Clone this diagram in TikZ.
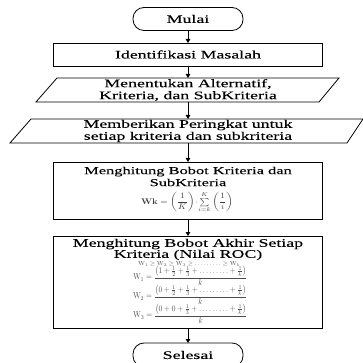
\documentclass[tikz,border=0pt]{standalone}
\usepackage{amsmath}
\usepackage[no-math]{fontspec}
\setmainfont[FakeStretch=1.55,FakeBold=0.1]{Liberation Serif}
\usepackage{graphicx}
\usetikzlibrary{arrows.meta}
\begin{document}
\begin{tikzpicture}[x=1pt,y=-1pt,
  every node/.style={inner sep=0pt, outer sep=0pt},
  frame/.style={draw, line width=0.8pt},
  term/.style={frame, rounded corners=11pt, minimum width=110pt, minimum height=23pt},
  procbox/.style={frame, minimum width=269pt},
  lbl/.style={align=center, font=\fontsize{11.5}{12}\selectfont},
  ghost/.style={minimum width=200pt, minimum height=24pt},
  fml/.style={text=black!70},
  arr/.style={line width=0.8pt, -{Triangle[length=4pt,width=4.5pt]}}]
\clip (0,0) rectangle (363,363);
\fill[white] (0,0) rectangle (363,363);

% Mulai
\node[term, lbl] (mulai) at (188,19) {Mulai};
% Identifikasi
\node[procbox, minimum height=23pt, lbl] (ident) at (188,54.5) {Identifikasi Masalah};
% Parallelogram 1
\draw[frame] (57,78) -- (339,78) -- (319,102) -- (36,102) -- cycle;
\node[ghost, lbl] (alt) at (188,90) {Menentukan Alternatif,\\Kriteria, dan SubKriteria};
% Parallelogram 2
\draw[frame] (31,119) -- (363,119) -- (347,143) -- (10,143) -- cycle;
\node[ghost, lbl] (rank) at (188,131) {Memberikan Peringkat untuk\\setiap kriteria dan subkriteria};
% Box 3
\node[procbox, minimum height=57pt] (bobot) at (188,190.5) {};
\node[align=center, font=\fontsize{10.6}{12}\selectfont] (bobott) at (188,176.5) {Menghitung Bobot Kriteria dan\\SubKriteria};
\node[text=black!75] (wk) at (187,202)
  {\resizebox{92pt}{12.5pt}{$\mathbf{Wk} = \left(\dfrac{1}{K}\right)\!\cdot\!\sum\limits_{i=k}^{K}\left(\dfrac{1}{i}\right)$}};
% Box 4
\node[procbox, minimum height=92pt] (akhir) at (188,282) {};
\node[align=center, font=\fontsize{11.5}{11}\selectfont] (akhirt) at (188,249.5) {Menghitung Bobot Akhir Setiap\\Kriteria (Nilai ROC)};
\node[fml] (f0) at (189,264) {\resizebox{102pt}{4pt}{$\mathrm{W}_1 \ge \mathrm{W}_2 \ge \mathrm{W}_3 \ge \ldots\ldots\ldots \ge \mathrm{W}_k$}};
\node[fml] (f1) at (190,276) {\resizebox{114pt}{13.5pt}{$\mathrm{W}_1 = \dfrac{\left(1+\frac{1}{2}+\frac{1}{3}+\ldots\ldots\ldots+\frac{1}{k}\right)}{k}$}};
\node[fml] (f2) at (190,295) {\resizebox{114pt}{13.5pt}{$\mathrm{W}_2 = \dfrac{\left(0+\frac{1}{2}+\frac{1}{3}+\ldots\ldots\ldots+\frac{1}{k}\right)}{k}$}};
\node[fml] (f3) at (190,314) {\resizebox{114pt}{13.5pt}{$\mathrm{W}_3 = \dfrac{\left(0+0+\frac{1}{3}+\ldots\ldots\ldots+\frac{1}{k}\right)}{k}$}};
% Selesai
\node[term, lbl, minimum height=24pt] (selesai) at (188,355) {Selesai};

% Connectors
\draw[arr] (mulai.south) -- (ident.north);
\draw[arr] (ident.south) -- (alt.north);
\draw[arr] (alt.south) -- (rank.north);
\draw[arr] (rank.south) -- (bobot.north);
\draw[arr] (bobot.south) -- (akhir.north);
\draw[arr] (akhir.south) -- (selesai.north);
\end{tikzpicture}
\end{document}
